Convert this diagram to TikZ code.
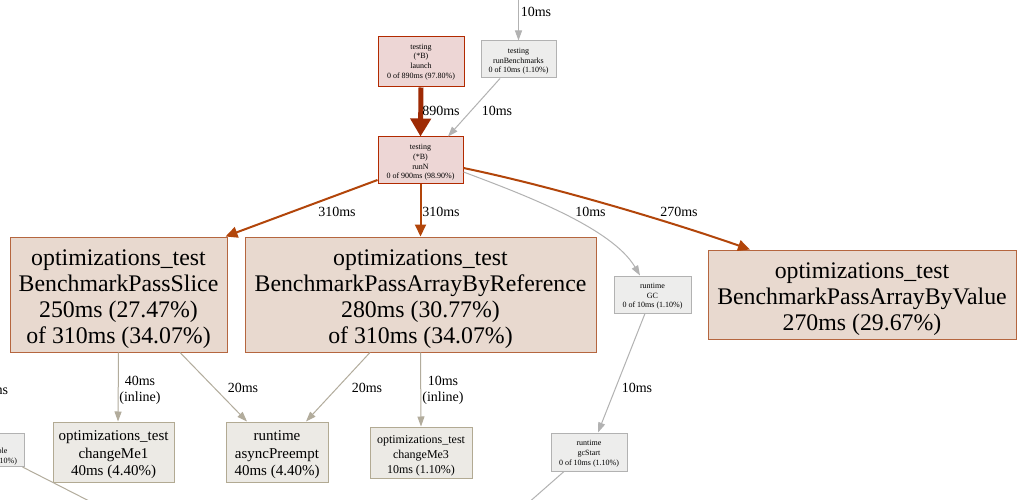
\documentclass[tikz,border=0pt]{standalone}
\usepackage{fontspec}
\setmainfont{Liberation Serif}
\usetikzlibrary{arrows.meta,calc}
\definecolor{hotfill}{HTML}{EDD6D5}
\definecolor{hotdraw}{HTML}{B22A00}
\definecolor{bigfill}{HTML}{E8D9CF}
\definecolor{bigdraw}{HTML}{B5663F}
\definecolor{greyfill}{HTML}{EDEDEC}
\definecolor{greydraw}{HTML}{B2B2B2}
\definecolor{tanfill}{HTML}{ECEAE5}
\definecolor{tandraw}{HTML}{B2AA93}
\definecolor{hotedge}{HTML}{9E2A04}
\definecolor{brownedge}{HTML}{B2450A}
\definecolor{greyedge}{HTML}{B2B2B2}
\definecolor{tanedge}{HTML}{B2AC9C}
\newcommand{\sbig}{\rule{0pt}{25pt}}
\newcommand{\stan}{\rule{0pt}{16pt}}
\newcommand{\scm}{\rule{0pt}{15pt}}
\newcommand{\ssml}{\rule{0pt}{9pt}}
\begin{document}
\begin{tikzpicture}[x=1pt,y=1pt,
  box/.style={draw, rectangle, inner sep=0pt, align=center, line width=1pt},
  hotnode/.style={box, fill=hotfill, draw=hotdraw, font=\fontsize{8}{9.8}\selectfont},
  bignode/.style={box, fill=bigfill, draw=bigdraw, font=\fontsize{23.8}{25.8}\selectfont},
  greynode/.style={box, fill=greyfill, draw=greydraw, font=\fontsize{8}{9.8}\selectfont},
  tannode/.style={box, fill=tanfill, draw=tandraw, font=\fontsize{15}{17.5}\selectfont},
  lbl/.style={font=\fontsize{14}{16}\selectfont, align=center, inner sep=0pt},
  eg/.style={draw=greyedge, line width=1pt, -{Triangle[length=10pt,width=7pt]}},
  et/.style={draw=tanedge, line width=1pt, -{Triangle[length=10pt,width=7pt]}},
  eb/.style={draw=brownedge, line width=2pt, -{Triangle[length=12pt,width=11pt]}},
  eh/.style={draw=hotedge, line width=5pt, -{Triangle[length=18pt,width=20pt]}}
]
\useasboundingbox (0,0) rectangle (1026,-500);
\clip (0,0) rectangle (1026,-500);
\fill[white] (0,0) rectangle (1026,-500);

% nodes
\node[hotnode, minimum width=86pt, minimum height=50pt] (launch) at (421,-62) {testing\\(*B)\\launch\\0 of 890ms (97.80\%)};
\node[greynode, minimum width=75pt, minimum height=37pt] (rb) at (518.5,-59.5) {\ssml testing\\runBenchmarks\\0 of 10ms (1.10\%)};
\node[hotnode, minimum width=85pt, minimum height=47pt] (runN) at (420.5,-160.5) {\ssml testing\\(*B)\\runN\\0 of 900ms (98.90\%)};
\node[bignode, minimum width=217pt, minimum height=115pt] (slice) at (118.5,-294.5) {\sbig optimizations\_test\\BenchmarkPassSlice\\250ms (27.47\%)\\of 310ms (34.07\%)};
\node[bignode, minimum width=351pt, minimum height=115pt] (ref) at (420.5,-294.5) {\sbig optimizations\_test\\BenchmarkPassArrayByReference\\280ms (30.77\%)\\of 310ms (34.07\%)};
\node[bignode, minimum width=308pt, minimum height=89pt] (value) at (862,-294.5) {\sbig optimizations\_test\\BenchmarkPassArrayByValue\\270ms (29.67\%)};
\node[greynode, minimum width=77pt, minimum height=37pt] (gc) at (652.5,-294.5) {\ssml runtime\\GC\\0 of 10ms (1.10\%)};
\node[tannode, minimum width=121pt, minimum height=60pt] (cm1) at (113.5,-452) {\stan optimizations\_test\\changeMe1\\40ms (4.40\%)};
\node[tannode, minimum width=102pt, minimum height=60pt] (async) at (277,-452) {\stan runtime\\asyncPreempt\\40ms (4.40\%)};
\node[tannode, font=\fontsize{12}{15}\selectfont, minimum width=102pt, minimum height=51pt] (cm3) at (421,-452.5) {\scm optimizations\_test\\changeMe3\\10ms (1.10\%)};
\node[greynode, minimum width=76pt, minimum height=38pt] (gcs) at (589,-452) {\ssml runtime\\gcStart\\0 of 10ms (1.10\%)};
\node[greynode, minimum width=74pt, minimum height=33pt] (find) at (-13,-450) {\ssml runtime\\findrunnable\\0 of 10ms (1.10\%)};

% free ends
\coordinate (topin) at (518.5,8);
\coordinate (gcout) at (527,-504);
\coordinate (findout) at (99,-506);

% edges
\draw[eg] (topin) -- (rb.north);
\draw[eh] (launch.south) -- (runN.north);
\draw[eg] ([xshift=-18.5pt]rb.south) -- ([xshift=27.5pt]runN.north);
\draw[eb] ([yshift=-19.5pt]runN.west) -- ([xshift=-2pt]slice.north east);
\draw[eb] (runN.south) -- (ref.north);
\draw[eg] ([yshift=-11.5pt]runN.east) .. controls (525,-195) and (612,-228) .. ([xshift=-12.5pt]gc.north);
\draw[eb] ([yshift=-7.5pt]runN.east) .. controls (560,-188) and (680,-225) .. ([xshift=-112pt]value.north);
\draw[et] (slice.south) -- ([xshift=4.5pt]cm1.north);
\draw[et] ([xshift=61.5pt]slice.south) -- ([xshift=-30pt]async.north);
\draw[et] ([xshift=-50.5pt]ref.south) -- ([xshift=29pt]async.north);
\draw[et] (ref.south) -- (cm3.north);
\draw[eg] ([xshift=-7.5pt]gc.south) -- ([xshift=9pt]gcs.north);
\draw[draw=greyedge, line width=1pt] ([xshift=-25pt]gcs.south) -- (gcout);
\draw[draw=tanedge, line width=1pt] ([xshift=-2pt]find.south east) -- (findout);

% labels
\node[lbl] (l1) at (536,-12) {10ms};
\node[lbl] (l2) at (441,-111) {890ms};
\node[lbl] (l3) at (497,-111) {10ms};
\node[lbl] (l4) at (337,-212) {310ms};
\node[lbl] (l5) at (441,-212) {310ms};
\node[lbl] (l6) at (590.5,-212) {10ms};
\node[lbl] (l7) at (679,-212) {270ms};
\node[lbl] (l8) at (140,-390) {40ms\\(inline)};
\node[lbl] (l9) at (243,-388) {20ms};
\node[lbl] (l10) at (367,-388) {20ms};
\node[lbl] (l11) at (443,-390) {10ms\\(inline)};
\node[lbl] (l12) at (637,-388) {10ms};
\node[lbl] (l13) at (-7,-390) {10ms};
\end{tikzpicture}
\end{document}
